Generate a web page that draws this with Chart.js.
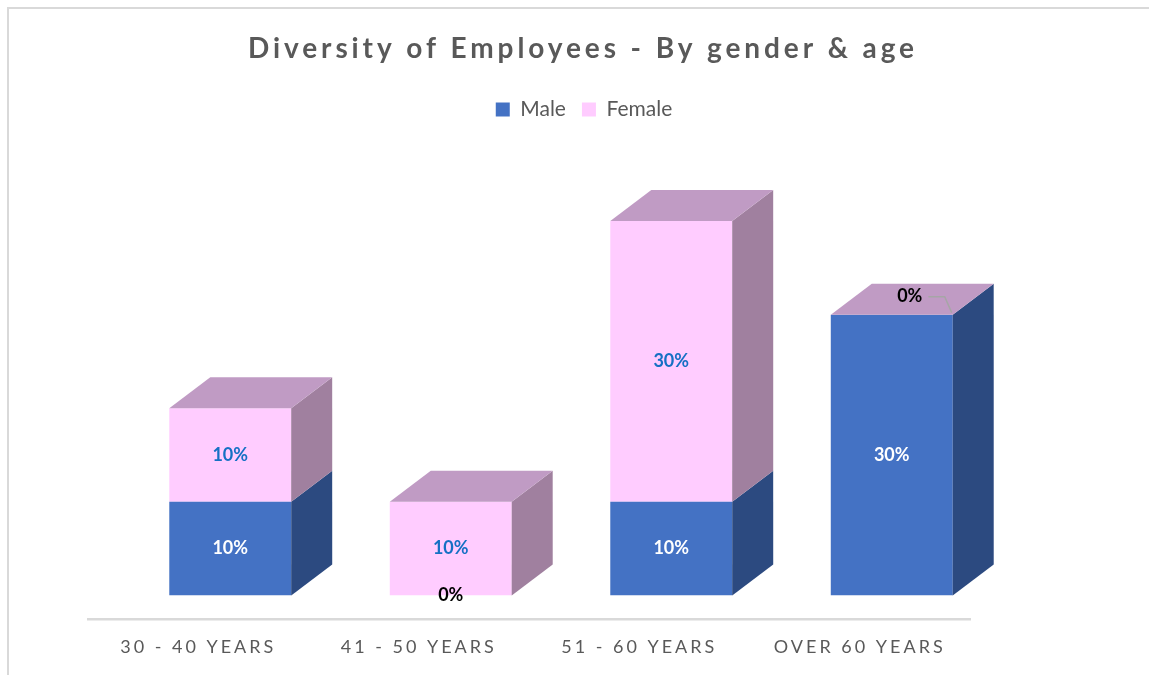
<!DOCTYPE html>
<html>
<head>
<meta charset="utf-8">
<script src="https://cdn.jsdelivr.net/npm/chart.js@4.4.1/dist/chart.umd.min.js"></script>
<style>
  html, body { margin: 0; padding: 0; background: #fff; overflow: hidden; }
  #frame {
    position: absolute; left: 7px; top: 7px; width: 1160px; height: 680px;
    border-left: 2px solid #d9d9d9; border-top: 2px solid #d9d9d9;
  }
  #wrap { width: 1150px; height: 666px; }
</style>
</head>
<body>
<div id="frame"><div id="wrap"><canvas id="chart"></canvas></div></div>
<script>
const TITLE = 'Diversity of Employees - By gender & age';
const AGE_GROUPS = ['30 - 40 YEARS', '41 - 50 YEARS', '51 - 60 YEARS', 'OVER 60 YEARS'];
const MALE = [10, 0, 10, 30];
const FEMALE = [10, 10, 30, 0];

// fake 3d look: depth of the boxes and shift of the front faces off the axis
const DEPTH_X = 41, DEPTH_Y = -31;
const SHIFT_X = 32, SHIFT_Y = -24;
const FRONT_COLORS = ['#4472C4', '#FFCCFF'];
const SIDE_COLORS = ['#2C4A80', '#A0809F'];
const TOP_COLOR = '#C09BC4';
const LABEL_COLORS = ['#FFFFFF', '#1570C4'];

const boxes3d = {
  id: 'boxes3d',
  beforeDraw(chart) {
    chart.ctx.letterSpacing = '0px';
  },
  beforeDatasetsDraw(chart) {
    const ctx = chart.ctx;
    ctx.save();
    ctx.translate(SHIFT_X, SHIFT_Y);
  },
  afterDatasetsDraw(chart) {
    const ctx = chart.ctx;
    const last = chart.data.datasets.length - 1;
    const bars = [];

    chart.data.datasets.forEach((ds, di) => {
      chart.getDatasetMeta(di).data.forEach((bar, i) => {
        const { x, y, base, width } = bar.getProps(['x', 'y', 'base', 'width'], true);
        const x1 = x - width / 2, x2 = x + width / 2;
        bars.push({ di, v: ds.data[i], x, y, base, x2 });

        ctx.fillStyle = SIDE_COLORS[di];
        ctx.beginPath();
        ctx.moveTo(x2, y);
        ctx.lineTo(x2 + DEPTH_X, y + DEPTH_Y);
        ctx.lineTo(x2 + DEPTH_X, base + DEPTH_Y);
        ctx.lineTo(x2, base);
        ctx.closePath();
        ctx.fill();

        if (di === last) {
          ctx.fillStyle = TOP_COLOR;
          ctx.beginPath();
          ctx.moveTo(x1, y);
          ctx.lineTo(x1 + DEPTH_X, y + DEPTH_Y);
          ctx.lineTo(x2 + DEPTH_X, y + DEPTH_Y);
          ctx.lineTo(x2, y);
          ctx.closePath();
          ctx.fill();
        }
      });
    });

    ctx.font = 'bold 18px Lato';
    ctx.textAlign = 'center';
    ctx.textBaseline = 'middle';
    bars.forEach((b) => {
      const text = b.v + '%';
      let tx = b.x, ty = (b.y + b.base) / 2;
      if (b.v === 0 && b.di === last) {
        // excel pushed this one onto the top face, with a leader line
        tx += 18; ty -= 18;
        const w = ctx.measureText(text).width;
        ctx.strokeStyle = '#A6A6A6';
        ctx.lineWidth = 1.5;
        ctx.beginPath();
        ctx.moveTo(tx + w / 2 + 6, ty);
        ctx.lineTo(b.x2 - 8, ty);
        ctx.lineTo(b.x2 - 1, b.y - 2);
        ctx.stroke();
      }
      ctx.fillStyle = b.v === 0 ? '#000000' : LABEL_COLORS[b.di];
      ctx.fillText(text, tx, ty);
    });

    ctx.restore();
    // x labels are spaced out, they are drawn after this (ticks z = 1)
    ctx.letterSpacing = '3px';
  },
  afterDraw(chart) {
    const ctx = chart.ctx;
    ctx.save();
    ctx.letterSpacing = '3.9px';
    ctx.font = 'bold 28px Lato';
    ctx.fillStyle = '#595959';
    ctx.textAlign = 'center';
    ctx.textBaseline = 'middle';
    ctx.fillText(TITLE, chart.width / 2 - 1, 40);
    ctx.restore();
    ctx.letterSpacing = '0px';
  },
};

new Chart(document.getElementById('chart'), {
  type: 'bar',
  data: {
    labels: AGE_GROUPS,
    datasets: [
      { label: 'Male', data: MALE, backgroundColor: FRONT_COLORS[0] },
      { label: 'Female', data: FEMALE, backgroundColor: FRONT_COLORS[1] },
    ],
  },
  options: {
    responsive: true,
    maintainAspectRatio: false,
    animation: false,
    layout: { padding: { top: 74, bottom: 8 } },
    datasets: { bar: { categoryPercentage: 1, barPercentage: 0.553, borderWidth: 0 } },
    plugins: {
      legend: {
        position: 'top',
        labels: {
          font: { family: 'Lato', size: 21 },
          color: '#595959',
          boxWidth: 14,
          boxHeight: 14,
          padding: 16,
        },
      },
      tooltip: { enabled: false },
    },
    scales: {
      x: {
        stacked: true,
        grid: { display: false },
        border: { color: '#D9D9D9', width: 2.5 },
        ticks: {
          z: 1,
          color: '#595959',
          font: { family: 'Lato', size: 18 },
          padding: 9,
          maxRotation: 0,
          autoSkip: false,
        },
      },
      y: {
        stacked: true,
        min: 0,
        max: 52.3,
        ticks: { display: false },
        grid: { display: false },
        border: { display: false },
        afterFit: (s) => { s.width = 79; },
      },
      y2: {
        position: 'right',
        ticks: { display: false },
        grid: { display: false },
        border: { display: false },
        afterFit: (s) => { s.width = 189; },
      },
    },
  },
  plugins: [boxes3d],
});
</script>
</body>
</html>
